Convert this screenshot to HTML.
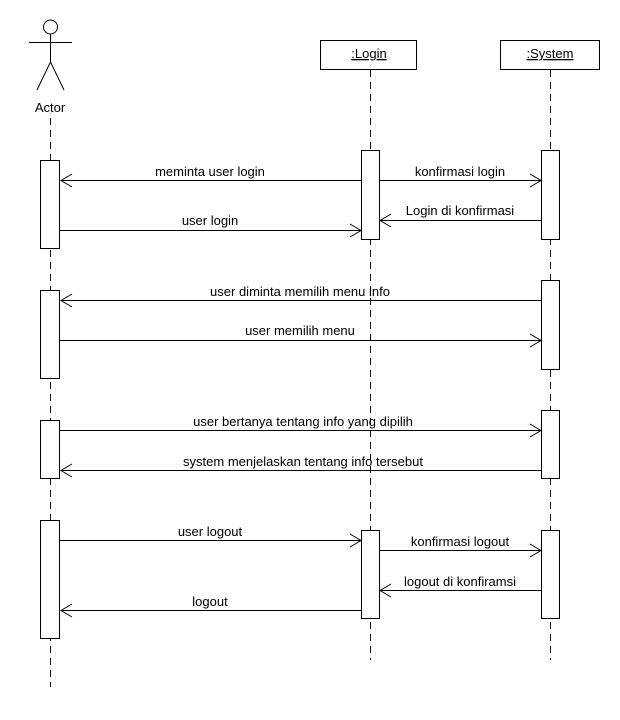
<!DOCTYPE html>
<html><head><meta charset="utf-8"><style>
html,body{margin:0;padding:0;background:#fff;}
svg{display:block;}
text{font-family:"Liberation Sans",Arial,sans-serif;font-size:13px;fill:#000;}
</style></head><body>
<svg width="620" height="720" viewBox="0 0 620 720" xmlns="http://www.w3.org/2000/svg">
<g stroke="#000" stroke-width="1" fill="none">
<!-- actor -->
<circle cx="50.5" cy="27" r="7"/>
<line x1="29" y1="42.5" x2="72" y2="42.5"/>
<line x1="50.5" y1="34" x2="50.5" y2="62"/>
<line x1="50.5" y1="62" x2="37" y2="90"/>
<line x1="50.5" y1="62" x2="64" y2="90"/>
<!-- boxes -->
<rect x="320.5" y="40.5" width="96" height="29"/>
<rect x="500.5" y="40.5" width="99" height="29"/>
<!-- lifelines -->
<g stroke-dasharray="7,5">
<line x1="50.5" y1="118" x2="50.5" y2="687"/>
<line x1="370.5" y1="70" x2="370.5" y2="660"/>
<line x1="550.5" y1="70" x2="550.5" y2="660"/>
</g>
</g>
<g stroke="#000" stroke-width="1" fill="#fff">
<rect x="40.5" y="160.5" width="19" height="88"/>
<rect x="361.5" y="150.5" width="18" height="89"/>
<rect x="541.5" y="150.5" width="18" height="89"/>
<rect x="40.5" y="290.5" width="19" height="88"/>
<rect x="541.5" y="280.5" width="18" height="89"/>
<rect x="40.5" y="420.5" width="19" height="58"/>
<rect x="541.5" y="410.5" width="18" height="68"/>
<rect x="40.5" y="520.5" width="19" height="118"/>
<rect x="361.5" y="530.5" width="18" height="88"/>
<rect x="541.5" y="530.5" width="18" height="88"/>
</g>
<g stroke="#000" stroke-width="1" fill="none">
<!-- left arrows: from x1 to x2 (x2 smaller) -->
<line x1="361" y1="180.5" x2="61" y2="180.5"/><polyline points="72,174 61,180.5 72,187"/>
<line x1="379" y1="180.5" x2="541" y2="180.5"/><polyline points="530,174 541,180.5 530,187"/>
<line x1="541" y1="220.5" x2="380" y2="220.5"/><polyline points="391,214 380,220.5 391,227"/>
<line x1="60" y1="230.5" x2="361" y2="230.5"/><polyline points="350,224 361,230.5 350,237"/>
<line x1="541" y1="300.5" x2="61" y2="300.5"/><polyline points="72,294 61,300.5 72,307"/>
<line x1="60" y1="340.5" x2="541" y2="340.5"/><polyline points="530,334 541,340.5 530,347"/>
<line x1="60" y1="430.5" x2="541" y2="430.5"/><polyline points="530,424 541,430.5 530,437"/>
<line x1="541" y1="470.5" x2="61" y2="470.5"/><polyline points="72,464 61,470.5 72,477"/>
<line x1="60" y1="540.5" x2="361" y2="540.5"/><polyline points="350,534 361,540.5 350,547"/>
<line x1="379" y1="550.5" x2="541" y2="550.5"/><polyline points="530,544 541,550.5 530,557"/>
<line x1="541" y1="590.5" x2="380" y2="590.5"/><polyline points="391,584 380,590.5 391,597"/>
<line x1="361" y1="610.5" x2="61" y2="610.5"/><polyline points="72,604 61,610.5 72,617"/>
</g>
<g text-anchor="middle">
<text x="50" y="112">Actor</text>
<text x="369" y="58" text-decoration="underline">:Login</text>
<text x="550" y="58" text-decoration="underline">:System</text>
<text x="210" y="176">meminta user login</text>
<text x="460" y="176">konfirmasi login</text>
<text x="460" y="215">Login di konfirmasi</text>
<text x="210" y="225">user login</text>
<text x="300" y="296">user diminta memilih menu info</text>
<text x="300" y="335">user memilih menu</text>
<text x="303" y="426">user bertanya tentang info yang dipilih</text>
<text x="303" y="466">system menjelaskan tentang info tersebut</text>
<text x="210" y="536">user logout</text>
<text x="460" y="546">konfirmasi logout</text>
<text x="460" y="586">logout di konfiramsi</text>
<text x="210" y="606">logout</text>
</g>
</svg>
</body></html>
